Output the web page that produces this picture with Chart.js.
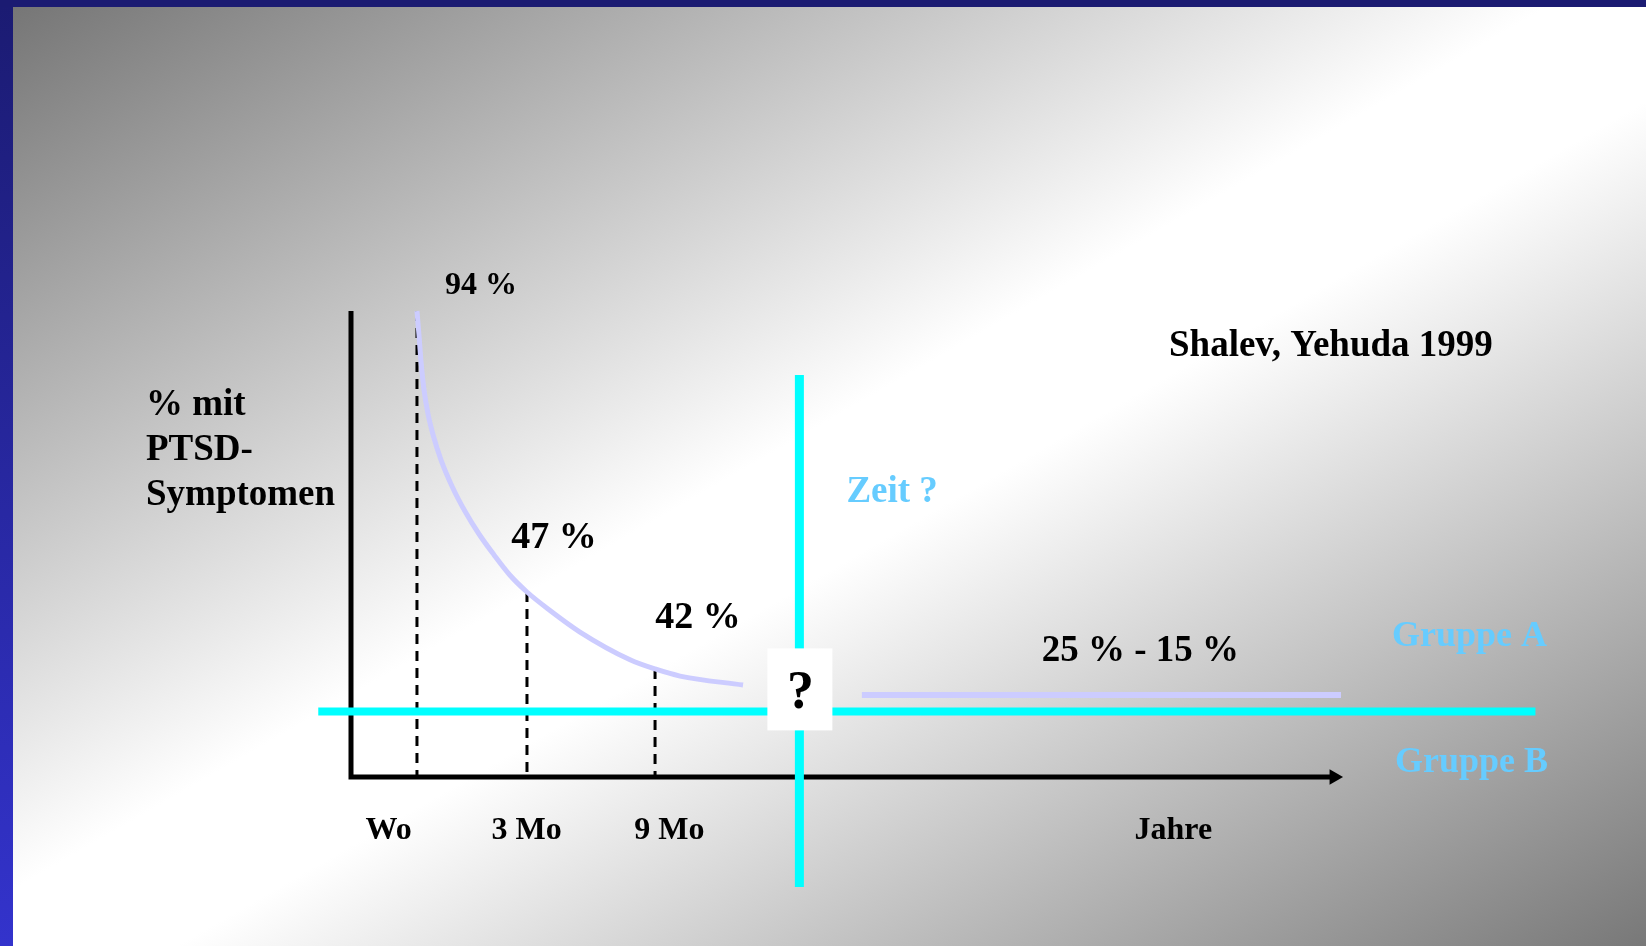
<!DOCTYPE html>
<html lang="de">
<head>
<meta charset="utf-8">
<title>PTSD-Symptome im Zeitverlauf</title>
<script src="https://cdn.jsdelivr.net/npm/chart.js@4/dist/chart.umd.min.js"></script>
<style>
  html, body { margin: 0; padding: 0; overflow: hidden; background: #fff; }
  #wrap { position: relative; width: 1646px; height: 946px; }
</style>
</head>
<body>
<div id="wrap"><canvas id="chart"></canvas></div>
<script>
// ---- Data -------------------------------------------------------------
// Follow-up points after the trauma and % of people with PTSD symptoms
const followUps   = ['Wo', '3 Mo', '9 Mo'];
const followUpAt  = [6.65, 17.74, 30.65];       // position on the time line (0–100)
const prevalence  = [94, 47, 42];

// Decay curve through the follow-ups
const decayAt    = [6.65, 6.85, 7.06, 7.36, 7.76, 8.27, 9.07, 10.18, 11.49, 12.90, 14.42,
                    16.03, 17.74, 20.06, 23.08, 28.13, 30.65, 33.17, 39.52];
const decayValue = [94, 90.0, 85.5, 80.8, 76.8, 73.3, 69.1, 64.7, 60.5, 56.7, 53.2,
                    49.8, 47, 45.8, 44.4, 42.6, 42, 36.0, 28.4];

// Chronic course after years
const chronicRange = [25, 15];
const chronicLevel = 20;
const chronicSpan  = [51.5, 99.8];

// Time axis
const timeLabels  = ['Wo', '3 Mo', '9 Mo', 'Jahre'];
const timeLabelAt = [3.8, 17.7, 32.1, 82.9];
const axisEnd     = 99.1;
const yMax        = 94;

// Split into Gruppe A / Gruppe B
const groups         = ['Gruppe A', 'Gruppe B'];
const groupThreshold = 16;
const thresholdSpan  = [-3.3, 119.4];
const groupBreakAt   = 45.2;
const breakSpan      = [83.3, -26.8];

const source = 'Shalev, Yehuda 1999';
const yTitle = ['% mit', 'PTSD-', 'Symptomen'];

// ---- Schematic (piecewise linear) value axis ---------------------------
const yStops    = [0, 20, 42, 47, 94];
const yStopFrac = [0, 0.176, 0.2318, 0.397, 1];

function toDecimal(v) {
  let i = 0;
  while (i < yStops.length - 2 && v > yStops[i + 1]) i++;
  const t = (v - yStops[i]) / (yStops[i + 1] - yStops[i]);
  return yStopFrac[i] + t * (yStopFrac[i + 1] - yStopFrac[i]);
}
function fromDecimal(d) {
  let i = 0;
  while (i < yStopFrac.length - 2 && d > yStopFrac[i + 1]) i++;
  const t = (d - yStopFrac[i]) / (yStopFrac[i + 1] - yStopFrac[i]);
  return yStops[i] + t * (yStops[i + 1] - yStops[i]);
}

class SchematicScale extends Chart.LinearScale {
  getPixelForValue(value) {
    if (value === null || value === undefined || isNaN(value)) return NaN;
    return this.getPixelForDecimal(toDecimal(value));
  }
  getValueForPixel(pixel) {
    return fromDecimal(this.getDecimalForPixel(pixel));
  }
}
SchematicScale.id = 'schematic';
SchematicScale.defaults = Chart.LinearScale.defaults;
Chart.register(SchematicScale);

// ---- Styling helpers ---------------------------------------------------
const SERIF = '"Liberation Serif", "Times New Roman", serif';
const CYAN = '#00ffff';
const LAVENDER = '#ccccff';
const LIGHTBLUE = '#66ccff';

function seg(points, color, width, extra) {
  return Object.assign({
    data: points, showLine: true, borderColor: color, borderWidth: width,
    pointRadius: 0, pointHoverRadius: 0, clip: false, fill: false
  }, extra || {});
}

const datasets = [
  // group threshold and the open time gap
  seg(thresholdSpan.map(x => ({ x, y: groupThreshold })), CYAN, 8, { order: 1 }),
  seg(breakSpan.map(y => ({ x: groupBreakAt, y })), CYAN, 9, { order: 1 }),
  // decay curve and chronic level
  seg(decayAt.map((x, i) => ({ x, y: decayValue[i] })), LAVENDER, 5,
      { order: 2, cubicInterpolationMode: 'monotone' }),
  seg(chronicSpan.map(x => ({ x, y: chronicLevel })), LAVENDER, 6, { order: 2 }),
  // follow-up markers
  ...followUpAt.map((x, i) => seg([{ x, y: prevalence[i] }, { x, y: 0 }], '#000', 3,
      { order: 3, borderDash: [10, 7] })),
  // axes with arrow head
  seg([{ x: 0, y: yMax }, { x: 0, y: 0 }, { x: axisEnd, y: 0 }], '#000', 5, {
    order: 4, borderJoinStyle: 'miter', borderCapStyle: 'butt',
    pointStyle: 'triangle', pointRotation: 90,
    pointRadius: c => (c.dataIndex === 2 ? 9 : 0),
    pointBackgroundColor: '#000', pointBorderColor: '#000', pointBorderWidth: 0
  })
];

// ---- Plugins -----------------------------------------------------------
const backdrop = {
  id: 'backdrop',
  beforeDraw(chart) {
    const { ctx, width, height } = chart;
    const x0 = 13, y0 = 7, W = width - x0, H = height - y0;
    const k = 2 * W * H / (W * W + H * H);
    const g = ctx.createLinearGradient(x0, y0, x0 + k * H, y0 + k * W);
    g.addColorStop(0, '#767676');
    g.addColorStop(0.47, '#ffffff');
    g.addColorStop(0.55, '#ffffff');
    g.addColorStop(1, '#787878');
    ctx.save();
    ctx.fillStyle = g;
    ctx.fillRect(0, 0, width, height);
    const side = ctx.createLinearGradient(0, 0, 0, height);
    side.addColorStop(0, '#1b1b72');
    side.addColorStop(1, '#3333cc');
    ctx.fillStyle = side;
    ctx.fillRect(0, 0, x0, height);
    ctx.fillStyle = '#1b1b72';
    ctx.fillRect(0, 0, width, y0);
    ctx.restore();
  }
};

function text(ctx, s, x, y, size, color, align) {
  ctx.font = 'bold ' + size + 'px ' + SERIF;
  ctx.fillStyle = color;
  ctx.textAlign = align || 'center';
  ctx.textBaseline = 'alphabetic';
  ctx.fillText(s, x, y);
}

const annotations = {
  id: 'annotations',
  afterDatasetsDraw(chart) {
    const { ctx } = chart;
    const xs = chart.scales.x, ys = chart.scales.y;
    const px = v => xs.getPixelForValue(v);
    const py = v => ys.getPixelForValue(v);
    ctx.save();

    // box with the question mark on the time gap
    const bx = px(groupBreakAt), by = py(groupThreshold);
    ctx.fillStyle = '#ffffff';
    ctx.fillRect(bx - 32, by - 63, 65, 82);
    text(ctx, '?', bx + 1, by - 3, 54, '#000');

    // values at the follow-ups
    const valueOffsets = [[64, -17, 32], [27, -44, 38], [43, -41, 38]];
    prevalence.forEach((v, i) => {
      const [dx, dy, size] = valueOffsets[i];
      text(ctx, v + ' %', px(followUpAt[i]) + dx, py(v) + dy, size, '#000');
    });
    // chronic range
    const midChronic = (chronicSpan[0] + chronicSpan[1]) / 2;
    text(ctx, chronicRange[0] + ' % - ' + chronicRange[1] + ' %',
         px(midChronic) + 39, py(chronicLevel) - 34, 37, '#000');

    // time axis labels
    timeLabels.forEach((s, i) => text(ctx, s, px(timeLabelAt[i]), py(0) + 62, 32, '#000'));

    // value axis title
    yTitle.forEach((s, i) => text(ctx, s, 146, 415 + i * 45, 37, '#000', 'left'));

    // gap and group labels
    text(ctx, 'Zeit ?', bx + 47, 502, 37, LIGHTBLUE, 'left');
    text(ctx, groups[0], 1392, 646, 36, LIGHTBLUE, 'left');
    text(ctx, groups[1], 1395, 772, 36, LIGHTBLUE, 'left');

    // source
    text(ctx, source, 1169, 356, 37, '#000', 'left');
    ctx.restore();
  }
};

new Chart(document.getElementById('chart'), {
  type: 'scatter',
  data: { datasets },
  options: {
    responsive: true,
    maintainAspectRatio: false,
    animation: false,
    events: [],
    layout: { padding: { left: 351, right: 303, top: 311, bottom: 169 } },
    scales: {
      x: { type: 'linear', min: 0, max: 100, display: false },
      y: { type: 'schematic', min: 0, max: yMax, display: false }
    },
    plugins: { legend: { display: false }, tooltip: { enabled: false } }
  },
  plugins: [backdrop, annotations]
});
</script>
</body>
</html>
